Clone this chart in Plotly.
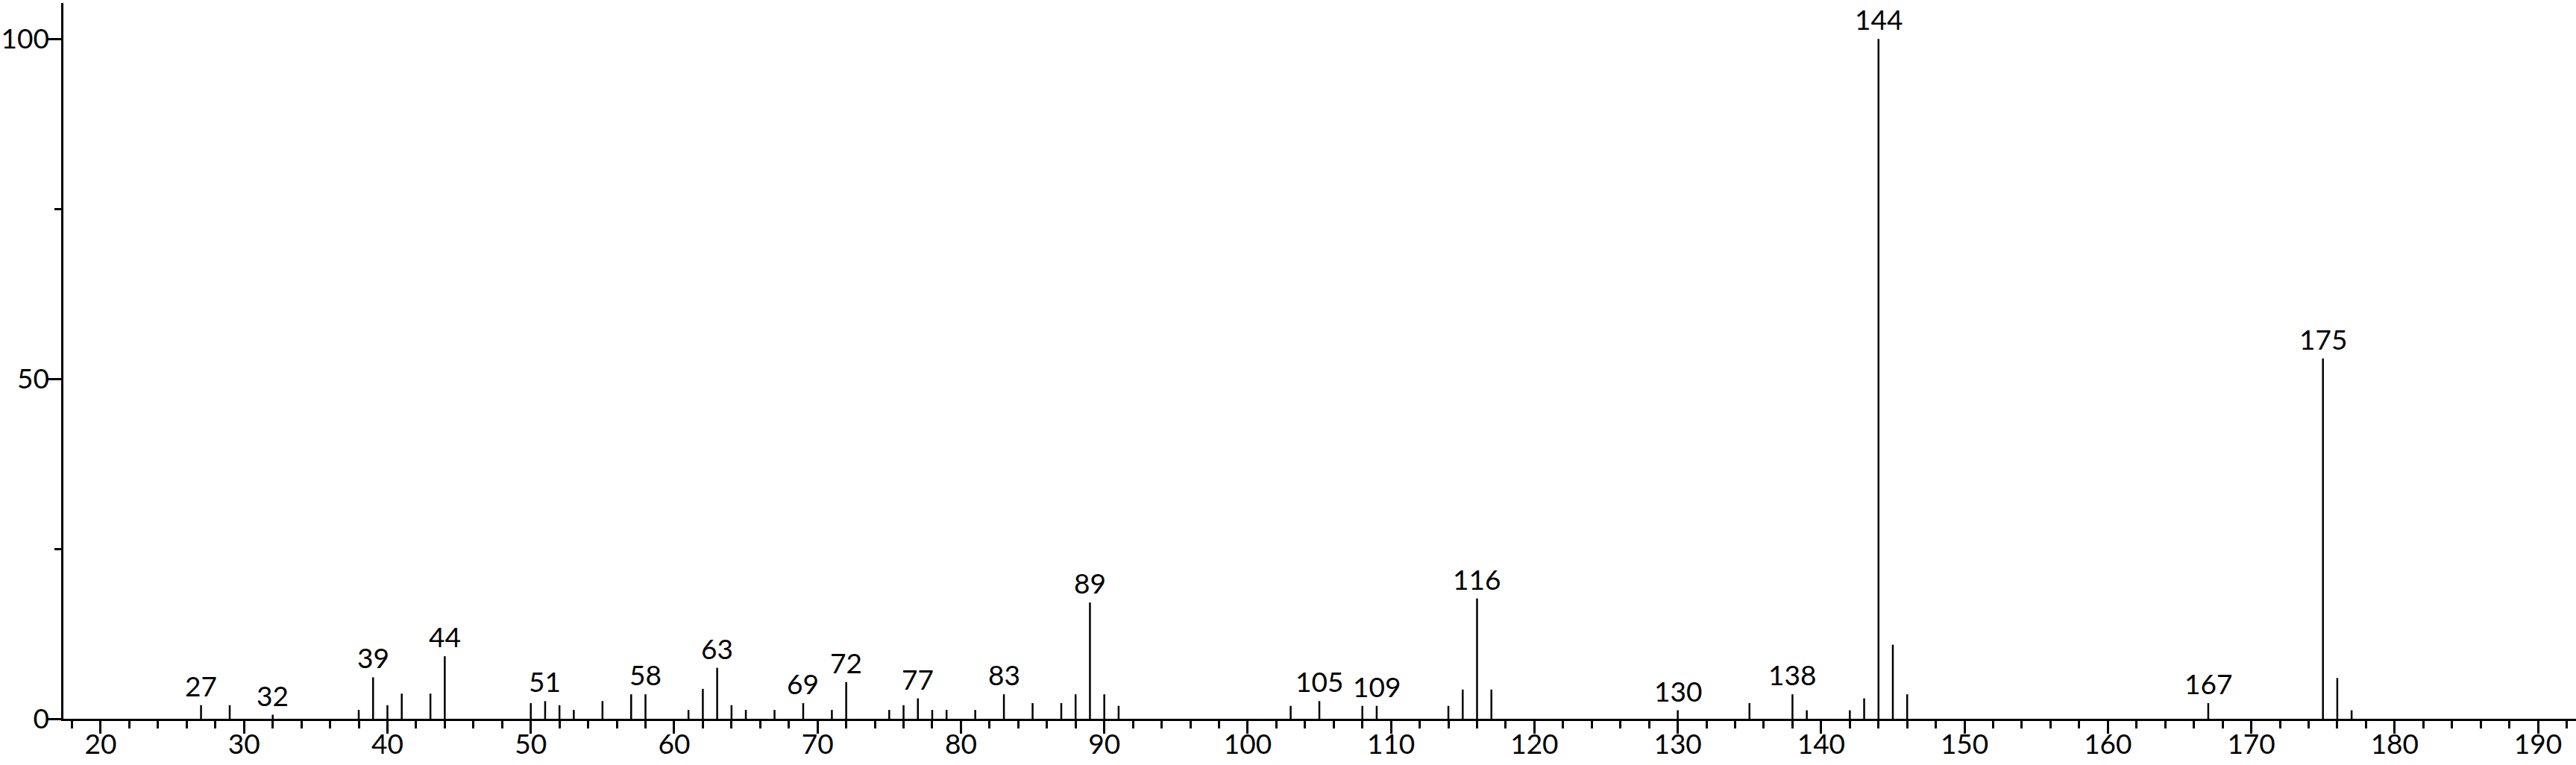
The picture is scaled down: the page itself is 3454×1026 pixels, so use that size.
import plotly.graph_objects as go

# m/z values and relative intensities
mz = [27, 29, 32, 38, 39, 40, 41, 43, 44, 50, 51, 52, 53, 55, 57, 58, 61, 62, 63,
      64, 65, 67, 69, 71, 72, 75, 76, 77, 78, 79, 81, 83, 85, 87, 88, 89, 90, 91,
      103, 105, 108, 109, 114, 115, 116, 117, 130, 135, 138, 139, 142, 143, 144,
      145, 146, 167, 175, 176, 177]
intensity = [2.0, 2.0, 0.6, 1.3, 6.1, 2.0, 3.7, 3.7, 9.2, 2.3, 2.6, 2.0, 1.3, 2.6,
             3.6, 3.6, 1.3, 4.4, 7.5, 2.0, 1.3, 1.3, 2.3, 1.3, 5.4, 1.3, 2.0, 3.0,
             1.3, 1.3, 1.3, 3.6, 2.3, 2.3, 3.6, 17.1, 3.6, 1.9, 1.9, 2.6, 1.9, 1.9,
             1.9, 4.3, 17.7, 4.3, 1.25, 2.3, 3.6, 1.25, 1.25, 3.0, 100.0, 10.9, 3.6,
             2.3, 53.0, 6.0, 1.25]
labeled_mz = [27, 32, 39, 44, 51, 58, 63, 69, 72, 77, 83, 89, 105, 109, 116, 130,
              138, 144, 167, 175]

x_ticks = [20, 30, 40, 50, 60, 70, 80, 90, 100, 110, 120, 130, 140, 150, 160, 170, 180, 190]
y_ticks = [0, 50, 100]

FONT = "Lato"
FS = 37

xs, ys = [], []
for m, h in zip(mz, intensity):
    xs += [m, m, None]
    ys += [0, h, None]

fig = go.Figure()
fig.add_trace(go.Scatter(x=xs, y=ys, mode="lines",
                         line=dict(color="black", width=2.5),
                         hoverinfo="skip", showlegend=False))

lookup = dict(zip(mz, intensity))
for m in labeled_mz:
    fig.add_annotation(x=m, y=lookup[m], text=str(m), showarrow=False,
                       xanchor="center", yanchor="bottom", yshift=2,
                       font=dict(family=FONT, size=FS, color="black"))

fig.update_layout(
    template="none",
    width=3454, height=1026,
    margin=dict(l=85, r=0, t=4, b=62, autoexpand=False),
    paper_bgcolor="white", plot_bgcolor="white",
    font=dict(family=FONT, size=FS, color="black"),
    showlegend=False,
)
fig.update_xaxes(
    automargin=False,
    range=[17.40, 192.65], tickvals=x_ticks, ticktext=[str(v) for v in x_ticks],
    showgrid=False, zeroline=False, showline=True, linecolor="black", linewidth=2.5,
    ticks="outside", ticklen=17, tickwidth=2.5, tickcolor="black",
    ticklabelstandoff=-17,
    minor=dict(dtick=2, tick0=0, ticks="outside", ticklen=10, tickwidth=2.5,
               tickcolor="black", showgrid=False),
    tickfont=dict(family=FONT, size=FS, color="black"),
)
fig.update_yaxes(
    automargin=False,
    range=[0, 105.3], tickvals=y_ticks, ticktext=[str(v) for v in y_ticks],
    showgrid=False, zeroline=False, showline=True, linecolor="black", linewidth=2.5,
    ticks="outside", ticklen=18, tickwidth=2.5, tickcolor="black",
    ticklabelstandoff=-9,
    minor=dict(dtick=25, tick0=0, ticks="outside", ticklen=9, tickwidth=2.5,
               tickcolor="black", showgrid=False),
    tickfont=dict(family=FONT, size=FS, color="black"),
)

fig.write_html("out.html",
               config={"displayModeBar": False},
               post_script="document.body.style.margin='0';document.body.style.overflow='hidden';")
